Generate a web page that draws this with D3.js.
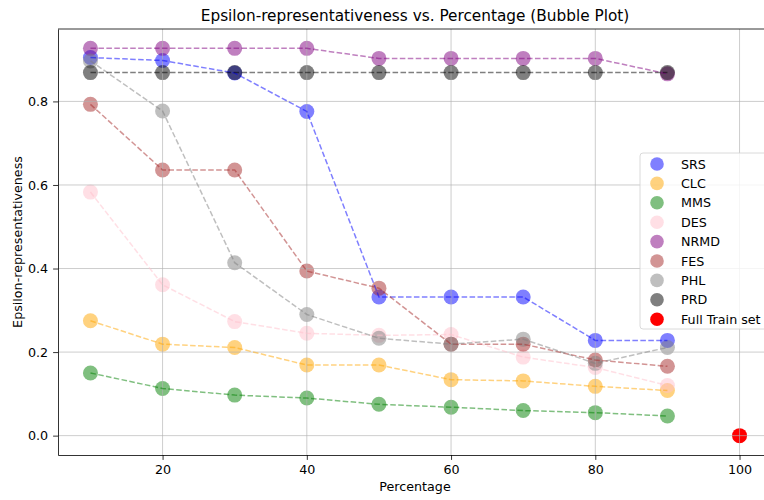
<!DOCTYPE html>
<html>
<head>
<meta charset="utf-8">
<script src="https://cdn.jsdelivr.net/npm/d3@7"></script>
<style>
  body { margin: 0; background: #fff; }
  text { font-family: "DejaVu Sans", sans-serif; fill: #000; }
</style>
</head>
<body>
<svg id="chart" width="764" height="500"></svg>
<script>
// data
var percentages = [10, 20, 30, 40, 50, 60, 70, 80, 90];
var srs  = [0.905, 0.898, 0.868, 0.776, 0.332, 0.332, 0.332, 0.228, 0.228];
var clc  = [0.275, 0.219, 0.211, 0.169, 0.169, 0.134, 0.131, 0.118, 0.108];
var mms  = [0.150, 0.113, 0.097, 0.090, 0.075, 0.068, 0.060, 0.055, 0.047];
var des  = [0.583, 0.361, 0.273, 0.245, 0.240, 0.242, 0.188, 0.163, 0.120];
var nrmd = [0.927, 0.927, 0.927, 0.927, 0.903, 0.903, 0.903, 0.903, 0.866];
var fes  = [0.793, 0.636, 0.636, 0.394, 0.353, 0.219, 0.219, 0.181, 0.166];
var phl  = [0.897, 0.777, 0.414, 0.290, 0.233, 0.219, 0.231, 0.173, 0.211];
var prd  = [0.869, 0.869, 0.869, 0.869, 0.869, 0.869, 0.869, 0.869, 0.869];
var fullX = [100];
var fullY = [0.0];

var seriesNames = ["SRS", "CLC", "MMS", "DES", "NRMD", "FES", "PHL", "PRD"];
var seriesValues = [srs, clc, mms, des, nrmd, fes, phl, prd];
var seriesColors = ["blue", "orange", "green", "pink", "purple", "brown", "gray", "black"];
var xTicks = [20, 40, 60, 80, 100];
var yTicks = [0.0, 0.2, 0.4, 0.6, 0.8];

var margin = {top: 29, left: 58, bottom: 455, right: 772};

var x = d3.scaleLinear().domain([5.5, 104.5]).range([margin.left, margin.right]);
var y = d3.scaleLinear().domain([-0.04635, 0.97335]).range([margin.bottom, margin.top]);

var svg = d3.select("#chart");

var series = seriesNames.map(function(name, i) {
  return {
    name: name,
    color: seriesColors[i],
    points: percentages.map(function(p, j) { return {x: p, y: seriesValues[i][j]}; })
  };
});

// scatter bubbles first (matplotlib draws collections below grid and lines)
series.forEach(function(s) {
  svg.append("g").selectAll("circle")
    .data(s.points)
    .enter().append("circle")
      .attr("cx", function(d) { return x(d.x); })
      .attr("cy", function(d) { return y(d.y); })
      .attr("r", 7.5)
      .attr("fill", s.color)
      .attr("fill-opacity", 0.5);
});

svg.append("g").selectAll("circle")
  .data(fullX.map(function(v, i) { return {x: v, y: fullY[i]}; }))
  .enter().append("circle")
    .attr("cx", function(d) { return x(d.x); })
    .attr("cy", function(d) { return y(d.y); })
    .attr("r", 7.5)
    .attr("fill", "red");

// grid
var grid = svg.append("g").attr("stroke", "#b0b0b0").attr("stroke-width", 0.8).attr("stroke-opacity", 0.8);
xTicks.forEach(function(t) {
  grid.append("line").attr("x1", x(t)).attr("x2", x(t)).attr("y1", margin.top).attr("y2", margin.bottom);
});
yTicks.forEach(function(t) {
  grid.append("line").attr("x1", margin.left).attr("x2", margin.right).attr("y1", y(t)).attr("y2", y(t));
});

// dashed lines
var line = d3.line()
  .x(function(d) { return x(d.x); })
  .y(function(d) { return y(d.y); });

series.forEach(function(s) {
  svg.append("path")
    .datum(s.points)
    .attr("d", line)
    .attr("fill", "none")
    .attr("stroke", s.color)
    .attr("stroke-opacity", 0.5)
    .attr("stroke-width", 1.5)
    .attr("stroke-dasharray", "5.55,2.4");
});

// axes
var xAxis = svg.append("g")
  .attr("transform", "translate(0," + margin.bottom + ")")
  .call(d3.axisBottom(x).tickValues(xTicks).tickFormat(d3.format("d")).tickSize(4.9).tickSizeOuter(0).tickPadding(4.9));
var yAxis = svg.append("g")
  .attr("transform", "translate(" + margin.left + ",0)")
  .call(d3.axisLeft(y).tickValues(yTicks).tickFormat(d3.format(".1f")).tickSize(4.9).tickSizeOuter(0).tickPadding(4.9));

[xAxis, yAxis].forEach(function(a) {
  a.select(".domain").attr("stroke", "#000").attr("stroke-width", 0.8);
  a.selectAll(".tick line").attr("stroke", "#000").attr("stroke-width", 0.8);
  a.selectAll(".tick text").style("font-size", "12.7px").style("font-family", "DejaVu Sans, sans-serif");
});

// spines top / right
svg.append("line").attr("x1", margin.left).attr("x2", margin.right)
  .attr("y1", margin.top).attr("y2", margin.top).attr("stroke", "#000").attr("stroke-width", 0.8);
svg.append("line").attr("x1", margin.right).attr("x2", margin.right)
  .attr("y1", margin.top).attr("y2", margin.bottom).attr("stroke", "#000").attr("stroke-width", 0.8);

// titles
svg.append("text")
  .attr("x", (margin.left + margin.right) / 2)
  .attr("y", 21)
  .style("text-anchor", "middle")
  .style("font-size", "15.3px")
  .text("Epsilon-representativeness vs. Percentage (Bubble Plot)");

svg.append("text")
  .attr("x", (margin.left + margin.right) / 2)
  .attr("y", 491)
  .style("text-anchor", "middle")
  .style("font-size", "12.7px")
  .text("Percentage");

svg.append("text")
  .attr("transform", "rotate(-90)")
  .attr("x", -(margin.top + margin.bottom) / 2)
  .attr("y", 22)
  .style("text-anchor", "middle")
  .style("font-size", "12.7px")
  .text("Epsilon-representativeness");

// legend
var legendItems = series.map(function(s) { return {name: s.name, color: s.color, opacity: 0.5}; });
legendItems.push({name: "Full Train set", color: "red", opacity: 1});

var legend = svg.append("g").attr("transform", "translate(640,153)");
legend.append("rect")
  .attr("width", 140).attr("height", 176)
  .attr("rx", 3)
  .attr("fill", "#fff").attr("fill-opacity", 0.8)
  .attr("stroke", "#d0d0d0").attr("stroke-width", 0.8);

var rows = legend.selectAll("g.row")
  .data(legendItems)
  .enter().append("g")
    .attr("class", "row")
    .attr("transform", function(d, i) { return "translate(0," + (11 + i * 19.4) + ")"; });
rows.append("circle")
  .attr("cx", 17).attr("cy", 0).attr("r", 6.8)
  .attr("fill", function(d) { return d.color; })
  .attr("fill-opacity", function(d) { return d.opacity; });
rows.append("text")
  .attr("x", 41).attr("y", 4.5)
  .style("font-size", "12.7px")
  .text(function(d) { return d.name; });
</script>
</body>
</html>
